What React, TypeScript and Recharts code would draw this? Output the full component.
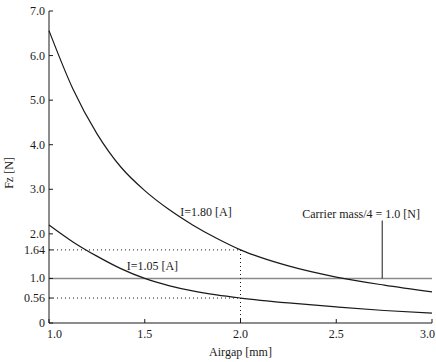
import React from 'react';
import {
  ComposedChart,
  Line,
  XAxis,
  YAxis,
  ReferenceLine,
  ReferenceDot,
  Label,
} from 'recharts';

// airgap [mm]
const airgap = [1.0, 1.125, 1.25, 1.375, 1.5, 1.625, 1.75, 1.875, 2.0, 2.25, 2.5, 2.75, 3.0];
// Fz [N] for each coil current
const fzHigh = [6.56, 5.25, 4.25, 3.5, 2.97, 2.55, 2.2, 1.9, 1.64, 1.28, 1.03, 0.85, 0.7];
const fzLow = [2.2, 1.82, 1.5, 1.22, 1.0, 0.84, 0.72, 0.63, 0.56, 0.45, 0.36, 0.28, 0.22];

const xTicks = [1.0, 1.5, 2.0, 2.5, 3.0];
const yTicks = [0, 0.56, 1.0, 1.64, 2.0, 3.0, 4.0, 5.0, 6.0, 7.0];
const yTickLabels = ['0', '0.56', '1.0', '1.64', '2.0', '3.0', '4.0', '5.0', '6.0', '7.0'];

const carrierWeight = 1.0;
const readAirgap = 2.0;
const readHigh = 1.64;
const readLow = 0.56;
const carrierMarkX = 2.74;
const carrierMarkTop = 2.3;

const data = airgap.map((g, i) => ({ g, high: fzHigh[i], low: fzLow[i] }));

const FONT = '"Liberation Serif", "DejaVu Serif", serif';
const INK = '#1a1a1a';

const LeftTick = (props: any) => {
  const { x, y, payload } = props;
  const i = yTicks.indexOf(payload.value);
  return (
    <g>
      <line x1={x} y1={y} x2={x + 4} y2={y} stroke={INK} />
      <text x={x - 4} y={y} dy={4} textAnchor="end" fontSize={12} fontFamily={FONT} fill={INK}>
        {i >= 0 ? yTickLabels[i] : payload.value}
      </text>
    </g>
  );
};

const BottomTick = (props: any) => {
  const { x, y, payload, index } = props;
  const last = index === xTicks.length - 1;
  const first = index === 0;
  return (
    <g>
      <line x1={x} y1={y} x2={x} y2={y - 4} stroke={INK} />
      <text
        x={first ? x - 2 : last ? x + 3 : x}
        y={y}
        dy={15}
        textAnchor={first ? 'start' : last ? 'end' : 'middle'}
        fontSize={12}
        fontFamily={FONT}
        fill={INK}
      >
        {payload.value.toFixed(1)}
      </text>
    </g>
  );
};

const TopTick = (props: any) => {
  const { x, y } = props;
  return <line x1={x} y1={y} x2={x} y2={y + 4} stroke={INK} />;
};

const RightTick = (props: any) => {
  const { x, y } = props;
  return <line x1={x} y1={y} x2={x - 4} y2={y} stroke={INK} />;
};

const YTitle = (props: any) => {
  const { viewBox } = props;
  const cx = viewBox.x + 13;
  const cy = viewBox.y + viewBox.height / 2 + 6;
  return (
    <text
      x={cx}
      y={cy}
      transform={`rotate(-90, ${cx}, ${cy})`}
      textAnchor="middle"
      fontSize={12}
      fontFamily={FONT}
      fill={INK}
    >
      Fz [N]
    </text>
  );
};

export default function App() {
  return (
    <div style={{ position: 'fixed', left: 0, top: 0, width: 436, height: 362, background: '#fff' }}>
      <ComposedChart width={436} height={362} data={data} margin={{ top: 11, right: 4, bottom: 0, left: 0 }}>
        <XAxis
          dataKey="g"
          type="number"
          domain={[1, 3]}
          ticks={xTicks}
          height={39}
          tickSize={0}
          tickMargin={0}
          tick={<BottomTick />}
          axisLine={{ stroke: INK }}
          tickLine={false}
        >
          <Label value="Airgap [mm]" position="insideBottom" offset={6} fontSize={12} fontFamily={FONT} fill={INK} />
        </XAxis>
        <XAxis
          xAxisId="top"
          orientation="top"
          type="number"
          domain={[1, 3]}
          ticks={xTicks}
          height={0}
          tickSize={0}
          tickMargin={0}
          tick={<TopTick />}
          axisLine={{ stroke: INK }}
          tickLine={false}
        />
        <YAxis
          type="number"
          domain={[0, 7]}
          ticks={yTicks}
          width={49}
          tickSize={0}
          tickMargin={0}
          tick={<LeftTick />}
          axisLine={{ stroke: INK }}
          tickLine={false}
          interval={0}
        >
          <Label content={<YTitle />} />
        </YAxis>
        <YAxis
          yAxisId="right"
          orientation="right"
          type="number"
          domain={[0, 7]}
          ticks={yTicks.slice(4)}
          width={0}
          tickSize={0}
          tickMargin={0}
          tick={<RightTick />}
          axisLine={{ stroke: INK }}
          tickLine={false}
        />

        <ReferenceLine y={carrierWeight} stroke="#8a8a8a" strokeWidth={1.5} />
        <ReferenceLine
          segment={[{ x: 1, y: readHigh }, { x: readAirgap, y: readHigh }]}
          stroke={INK}
          strokeDasharray="1 3"
        />
        <ReferenceLine
          segment={[{ x: 1, y: readLow }, { x: readAirgap, y: readLow }]}
          stroke={INK}
          strokeDasharray="1 3"
        />
        <ReferenceLine
          segment={[{ x: readAirgap, y: 0 }, { x: readAirgap, y: readHigh }]}
          stroke={INK}
          strokeDasharray="1 3"
        />
        <ReferenceLine
          segment={[{ x: carrierMarkX, y: carrierWeight }, { x: carrierMarkX, y: carrierMarkTop }]}
          stroke={INK}
        />

        <Line dataKey="high" type="monotone" stroke={INK} strokeWidth={1.2} dot={false} isAnimationActive={false} />
        <Line dataKey="low" type="monotone" stroke={INK} strokeWidth={1.2} dot={false} isAnimationActive={false} />

        <ReferenceDot x={1.82} y={2.49} r={0} stroke="none" fill="none">
          <Label value="I=1.80 [A]" position="center" fontSize={12} fontFamily={FONT} fill={INK} />
        </ReferenceDot>
        <ReferenceDot x={1.54} y={1.28} r={0} stroke="none" fill="none">
          <Label value="I=1.05 [A]" position="center" fontSize={12} fontFamily={FONT} fill={INK} />
        </ReferenceDot>
        <ReferenceDot x={2.63} y={2.45} r={0} stroke="none" fill="none">
          <Label value="Carrier mass/4 = 1.0 [N]" position="center" fontSize={12} fontFamily={FONT} fill={INK} />
        </ReferenceDot>
      </ComposedChart>
    </div>
  );
}
